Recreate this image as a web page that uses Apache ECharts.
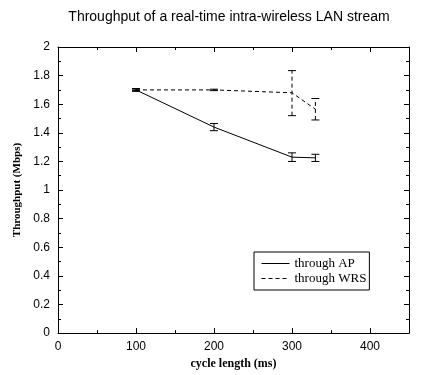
<!DOCTYPE html>
<html>
<head>
<meta charset="utf-8">
<script src="https://cdn.jsdelivr.net/npm/echarts@6/dist/echarts.min.js"></script>
<style>
html, body { margin: 0; padding: 0; background: #fff; }
#main { width: 422px; height: 375px; }
</style>
</head>
<body>
<div id="main"></div>
<script>
// 数据
var cycleLength = [100, 200, 300, 330];
var apMean = [1.70, 1.44, 1.23, 1.225];
var apLow = [1.69, 1.415, 1.20, 1.20];
var apHigh = [1.71, 1.465, 1.26, 1.25];
var wrsMean = [1.70, 1.70, 1.68, 1.565];
var wrsLow = [1.695, 1.695, 1.52, 1.49];
var wrsHigh = [1.705, 1.705, 1.835, 1.64];

function pairs(xs, ys) {
    return xs.map(function(x, i) { return [x, ys[i]]; });
}
function bars(xs, lo, hi) {
    return xs.map(function(x, i) { return [x, lo[i], hi[i]]; });
}

// 误差线
function errorBar(dashed) {
    return function(params, api) {
        var lo = api.coord([api.value(0), api.value(1)]);
        var hi = api.coord([api.value(0), api.value(2)]);
        var w = 4;
        var style = { stroke: '#000', lineWidth: 1, lineDash: dashed ? [4, 3] : null };
        return {
            type: 'group',
            children: [
                { type: 'line', shape: { x1: lo[0], y1: lo[1], x2: hi[0], y2: hi[1] }, style: style },
                { type: 'line', shape: { x1: lo[0] - w, y1: lo[1], x2: lo[0] + w, y2: lo[1] }, style: { stroke: '#000', lineWidth: 1 } },
                { type: 'line', shape: { x1: hi[0] - w, y1: hi[1], x2: hi[0] + w, y2: hi[1] }, style: { stroke: '#000', lineWidth: 1 } }
            ]
        };
    };
}

var chart = echarts.init(document.getElementById('main'));
var tickStyle = { show: true, inside: true, length: 5, lineStyle: { color: '#000' } };
var minorStyle = { show: true, splitNumber: 2, length: 3, lineStyle: { color: '#000' } };
var lineStyle = { show: true, onZero: false, lineStyle: { color: '#000' } };
var labelFont = { color: '#000', fontFamily: 'Liberation Sans', fontSize: 12 };

chart.setOption({
    animation: false,
    title: {
        text: 'Throughput of a real-time intra-wireless LAN stream',
        left: 224,
        textAlign: 'center',
        top: 5,
        textStyle: { color: '#000', fontFamily: 'Liberation Sans', fontWeight: 'normal', fontSize: 14 }
    },
    grid: { left: 58, right: 13, top: 47, bottom: 35 },
    legend: {
        orient: 'vertical',
        left: 254,
        top: 252,
        itemWidth: 28,
        itemHeight: 10,
        itemGap: 2,
        padding: [5, 3, 5, 7],
        borderColor: '#000',
        borderWidth: 1,
        borderRadius: 0,
        itemStyle: { opacity: 0 },
        lineStyle: { width: 1 },
        textStyle: { color: '#000', fontFamily: 'Liberation Serif', fontSize: 13 },
        data: ['through AP', 'through WRS']
    },
    xAxis: [{
        type: 'value', min: 0, max: 450, interval: 100,
        name: 'cycle length (ms)', nameLocation: 'middle', nameGap: 19,
        nameTextStyle: { color: '#000', fontFamily: 'Liberation Serif', fontWeight: 'bold', fontSize: 12 },
        axisLine: lineStyle,
        axisTick: tickStyle, minorTick: minorStyle,
        axisLabel: { color: '#000', fontFamily: 'Liberation Sans', fontSize: 12, showMaxLabel: false },
        splitLine: { show: false }
    }, {
        type: 'value', min: 0, max: 450, interval: 100, position: 'top',
        axisLine: lineStyle,
        axisTick: tickStyle, minorTick: minorStyle,
        axisLabel: { show: false }, splitLine: { show: false }
    }],
    yAxis: [{
        type: 'value', min: 0, max: 2, interval: 0.2,
        name: 'Throughput (Mbps)', nameLocation: 'middle', nameGap: 34,
        nameTextStyle: { color: '#000', fontFamily: 'Liberation Serif', fontWeight: 'bold', fontSize: 11 },
        axisLine: lineStyle,
        axisTick: tickStyle, minorTick: minorStyle,
        axisLabel: labelFont, splitLine: { show: false }
    }, {
        type: 'value', min: 0, max: 2, interval: 0.2, position: 'right',
        axisLine: lineStyle,
        axisTick: tickStyle, minorTick: minorStyle,
        axisLabel: { show: false }, splitLine: { show: false }
    }],
    series: [{
        name: 'through AP', type: 'line', symbol: 'none',
        itemStyle: { color: '#000' },
        lineStyle: { color: '#000', width: 1, type: 'solid' },
        data: pairs(cycleLength, apMean)
    }, {
        name: 'through WRS', type: 'line', symbol: 'none',
        itemStyle: { color: '#000' },
        lineStyle: { color: '#000', width: 1, type: [4, 3] },
        data: pairs(cycleLength, wrsMean)
    }, {
        type: 'custom', renderItem: errorBar(false),
        encode: { x: 0, y: [1, 2] },
        data: bars(cycleLength, apLow, apHigh), z: 3
    }, {
        type: 'custom', renderItem: errorBar(true),
        encode: { x: 0, y: [1, 2] },
        data: bars(cycleLength, wrsLow, wrsHigh), z: 3
    }]
});
</script>
</body>
</html>
